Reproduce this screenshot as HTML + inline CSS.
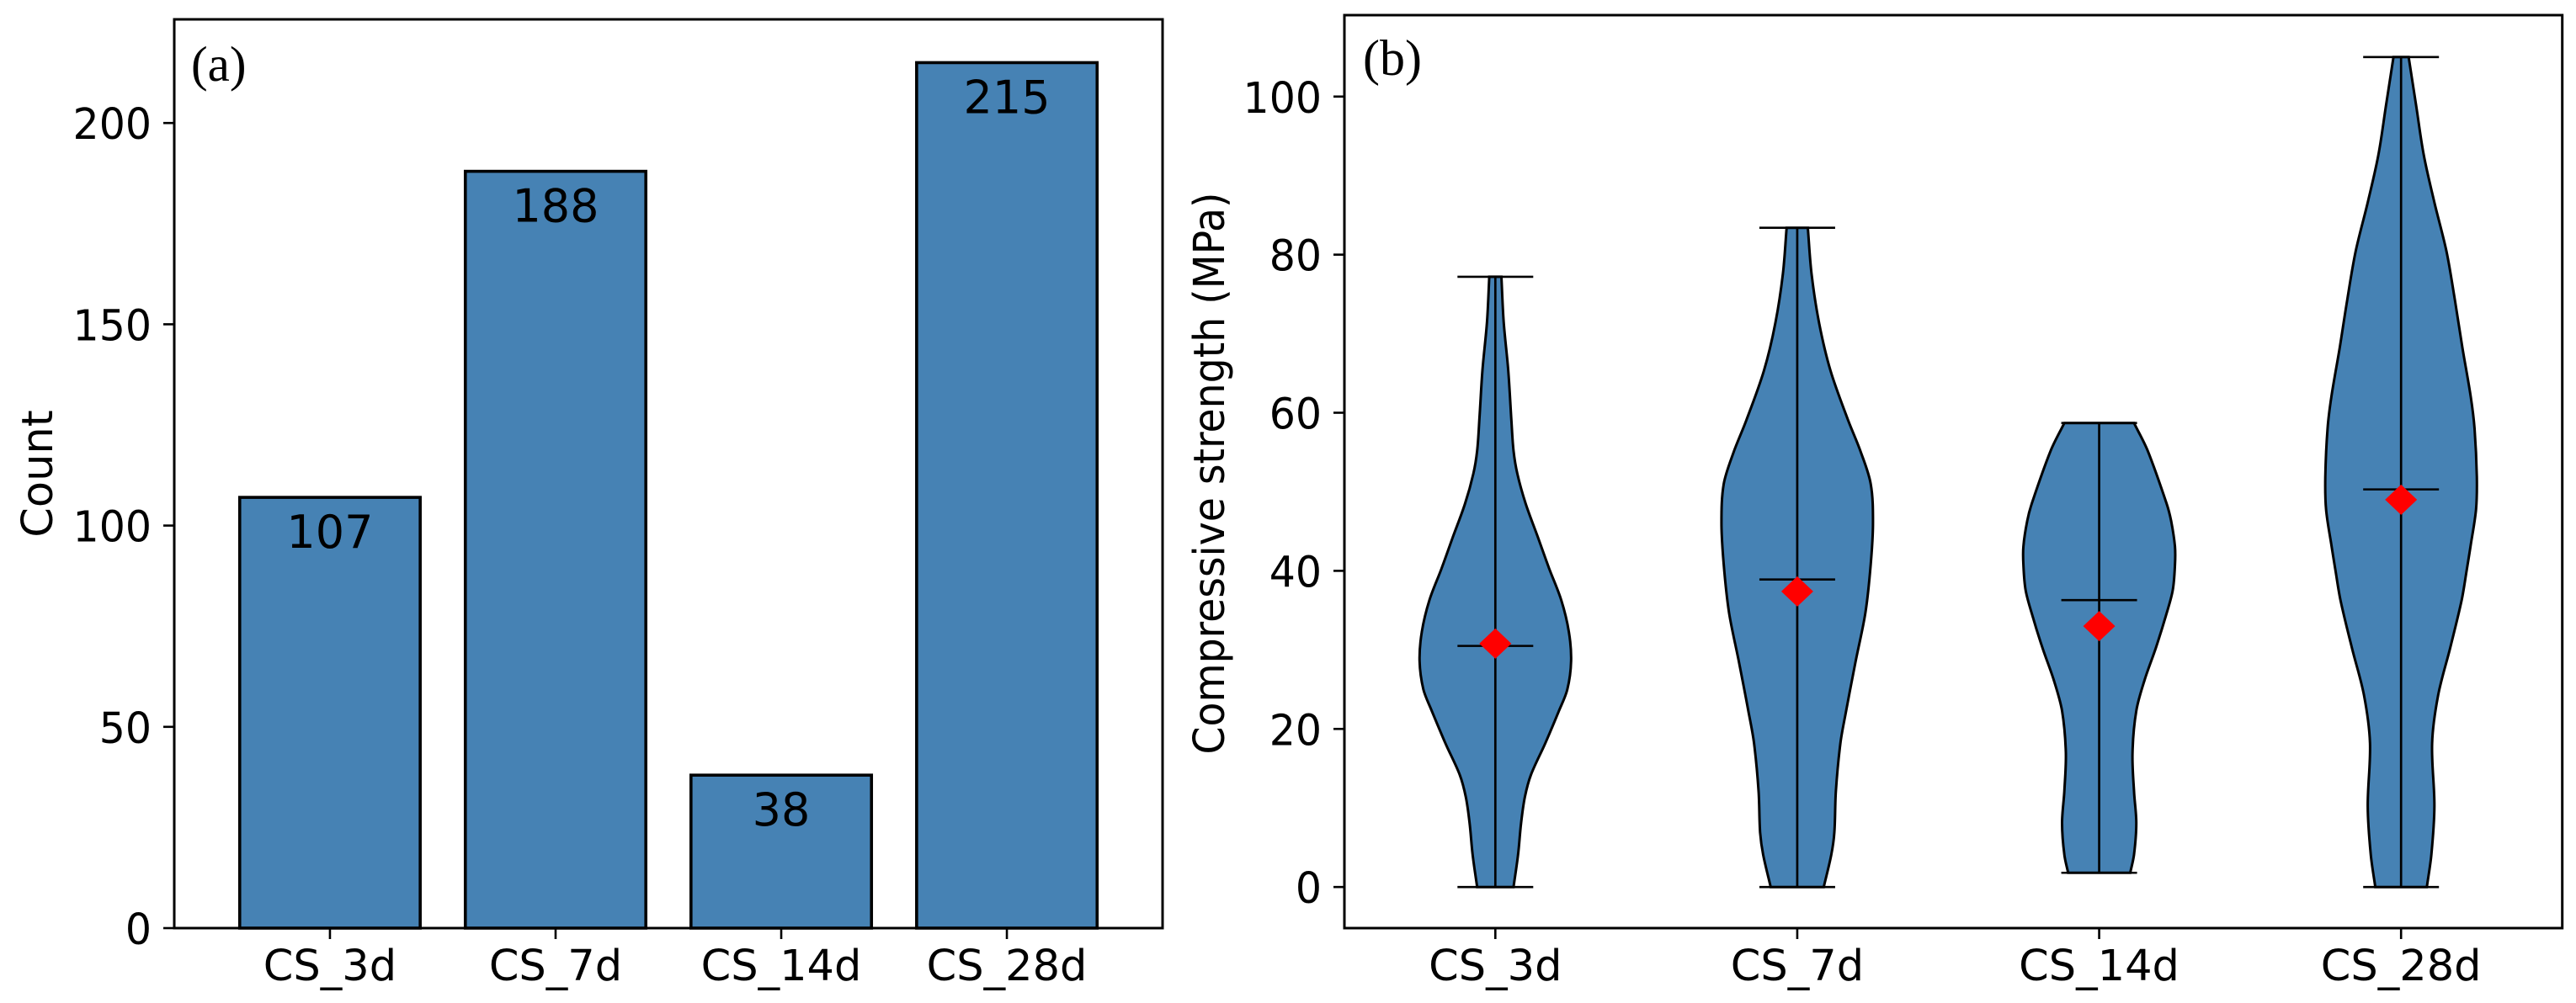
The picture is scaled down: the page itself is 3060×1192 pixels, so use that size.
<!DOCTYPE html>
<html lang="en">
<head>
<meta charset="utf-8">
<title>Compressive strength dataset: counts and distributions</title>
<style>
html,body{margin:0;padding:0;background:#fff;width:3060px;height:1192px;overflow:hidden}
svg{display:block}
text{font-family:"DejaVu Sans","Liberation Sans",sans-serif;fill:#000}
.serif{font-family:"Liberation Serif","DejaVu Serif",serif}
</style>
</head>
<body>
<svg id="figure" xmlns="http://www.w3.org/2000/svg" width="3060" height="1192" viewBox="0 0 3060 1192">
  <rect x="0" y="0" width="3060" height="1192" fill="#ffffff"/>
  <g id="panelA"></g>
  <g id="panelB"></g>
  <text class="serif" x="227" y="96" font-size="59">(a)</text>
  <text class="serif" x="1619" y="89" font-size="60">(b)</text>
  <text x="62" y="563" font-size="51" text-anchor="middle" transform="rotate(-90 62 563)">Count</text>
  <text x="1454" y="562.5" font-size="51" text-anchor="middle" textLength="668" lengthAdjust="spacingAndGlyphs" transform="rotate(-90 1454 562.5)">Compressive strength (MPa)</text>
</svg>
<script>
// ---- chart data ----
const categories = ["CS_3d", "CS_7d", "CS_14d", "CS_28d"];
const counts = [107, 188, 38, 215];
const countTicks = [0, 50, 100, 150, 200];
const strengthTicks = [0, 20, 40, 60, 80, 100];

const strengthMin = [0, 0, 1.8, 0];
const strengthMax = [77.2, 83.4, 58.7, 105];
const strengthMedian = [30.5, 38.9, 36.3, 50.3];
const strengthMean = [30.8, 37.4, 33, 49];

const levels3d = [0, 4.1, 8.1, 11.4, 14.2, 18.2, 22.3, 25, 28.6, 32.3, 36.3, 40.3, 44.3, 48.5, 52.3, 55.2, 59.3, 65.4, 71.5, 77.2];
const density3d = [0.24, 0.30, 0.34, 0.39, 0.47, 0.66, 0.84, 0.95, 1, 0.97, 0.87, 0.71, 0.56, 0.40, 0.29, 0.24, 0.21, 0.17, 0.11, 0.08];
const levels7d = [0, 4.1, 6.9, 12.1, 18.2, 22, 28.5, 34.7, 40.8, 46.1, 51, 55, 59.1, 65.3, 71.3, 77.5, 83.4];
const density7d = [0.35, 0.45, 0.49, 0.51, 0.57, 0.64, 0.77, 0.90, 0.97, 1, 0.97, 0.84, 0.67, 0.44, 0.29, 0.19, 0.14];
const levels14d = [1.8, 4.1, 8.1, 12.1, 17, 22.3, 26.2, 30.3, 34.3, 37.5, 40.7, 43.1, 46.3, 48.5, 55.2, 58.7];
const density14d = [0.41, 0.46, 0.49, 0.46, 0.44, 0.49, 0.60, 0.75, 0.88, 0.97, 1, 1, 0.95, 0.89, 0.64, 0.46];
const levels28d = [0, 4.1, 10.2, 18.2, 24.3, 30.3, 36.3, 40.3, 43.3, 47.8, 51.9, 58, 62, 68.2, 74.3, 80.4, 86.6, 92.6, 98.8, 105];
const density28d = [0.34, 0.40, 0.44, 0.41, 0.49, 0.65, 0.80, 0.87, 0.92, 0.99, 1, 0.97, 0.92, 0.81, 0.71, 0.60, 0.44, 0.30, 0.20, 0.10];
const allLevels = [levels3d, levels7d, levels14d, levels28d];
const allDensity = [density3d, density7d, density14d, density28d];

// ---- axis functions ----
const frameA = {l: 207, r: 1381, t: 23, b: 1103};
const frameB = {l: 1597, r: 3043.7, t: 18, b: 1103};
function scale(d0, d1, r0, r1) { return v => r0 + (v - d0) / (d1 - d0) * (r1 - r0); }
const xA = scale(-0.69, 3.69, frameA.l, frameA.r);
const yA = scale(0, 225.75, frameA.b, frameA.t);
const xB = scale(-0.5, 3.534, frameB.l, frameB.r);
const yB = scale(-5.2, 110.3, frameB.b, frameB.t);

const barWidthUnits = 0.8;
const violinHalfWidth = 90;
const capHalfWidth = 45;
const blue = "#4682b4";
const NS = "http://www.w3.org/2000/svg";

function make(parent, tag, attrs, content) {
  const el = document.createElementNS(NS, tag);
  for (const k in attrs) el.setAttribute(k, attrs[k]);
  if (content !== undefined) el.textContent = content;
  parent.appendChild(el);
  return el;
}

// Hermite spline of offset-vs-y, so unevenly spaced levels stay smooth
function slopes(points) {
  return points.map((p, i) => {
    const a = points[Math.max(0, i - 1)], b = points[Math.min(points.length - 1, i + 1)];
    return (b[0] - a[0]) / (b[1] - a[1]);
  });
}
function smoothSide(points) {
  const m = slopes(points);
  let d = "";
  for (let i = 0; i < points.length - 1; i++) {
    const p1 = points[i], p2 = points[i + 1], h = (p2[1] - p1[1]) / 3;
    d += `C${(p1[0] + m[i] * h).toFixed(1)} ${(p1[1] + h).toFixed(1)} ${(p2[0] - m[i + 1] * h).toFixed(1)} ${(p2[1] - h).toFixed(1)} ${p2[0].toFixed(1)} ${p2[1].toFixed(1)}`;
  }
  return d;
}

function frame(parent, f) {
  const r = make(parent, "rect", {x: f.l, y: f.t, width: f.r - f.l, height: f.b - f.t, fill: "none", stroke: "#000", "stroke-width": 3});
  
  
}

function yTick(parent, f, y, label) {
  const t = make(parent, "line", {x1: f.l - 13, x2: f.l, y1: y, y2: y, stroke: "#000", "stroke-width": 2.6});
  
  
  const l = make(parent, "text", {transform: `translate(${f.l - 27} ${y + 19}) scale(0.96 1)`, "font-size": 51, "text-anchor": "end"}, label);
  
  
}

function xTick(parent, f, x, label) {
  const t = make(parent, "line", {x1: x, x2: x, y1: f.b, y2: f.b + 13, stroke: "#000", "stroke-width": 2.6});
  
  
  const l = make(parent, "text", {x: x, y: 1165, "font-size": 51, "text-anchor": "middle"}, label);
  
  
}

// ---- panel (a): bars ----
const panelA = document.getElementById("panelA");
counts.forEach((c, i) => {
  const x0 = xA(i - barWidthUnits / 2), x1 = xA(i + barWidthUnits / 2), y = yA(c);
  const bar = make(panelA, "rect", {x: x0, y: y, width: x1 - x0, height: yA(0) - y, fill: blue, stroke: "#000", "stroke-width": 3.6});
  
  
  const val = make(panelA, "text", {x: xA(i), y: y + 60, "font-size": 54, "text-anchor": "middle"}, String(c));
  
  
});
countTicks.forEach(v => yTick(panelA, frameA, yA(v), String(v)));
categories.forEach((c, i) => xTick(panelA, frameA, xA(i), c));
frame(panelA, frameA);

// ---- panel (b): violins ----
const panelB = document.getElementById("panelB");
categories.forEach((c, i) => {
  const cx = xB(i);
  const lv = allLevels[i], dn = allDensity[i];
  const right = lv.map((v, k) => [cx + dn[k] * violinHalfWidth, yB(v)]);
  const left = lv.map((v, k) => [cx - dn[k] * violinHalfWidth, yB(v)]).reverse();
  const d = `M${right[0][0].toFixed(1)} ${right[0][1].toFixed(1)}` + smoothSide(right) +
            `L${left[0][0].toFixed(1)} ${left[0][1].toFixed(1)}` + smoothSide(left) + "Z";
  const body = make(panelB, "path", {d: d, fill: blue, stroke: "#000", "stroke-width": 3});
  
  

  const stem = make(panelB, "line", {x1: cx, x2: cx, y1: yB(strengthMin[i]), y2: yB(strengthMax[i]), stroke: "#000", "stroke-width": 2.7});
  
  

  [strengthMin[i], strengthMax[i], strengthMedian[i]].forEach(v => {
    const cap = make(panelB, "line", {x1: cx - capHalfWidth, x2: cx + capHalfWidth, y1: yB(v), y2: yB(v), stroke: "#000", "stroke-width": 2.6});
    
    
  });

  const my = yB(strengthMean[i]);
  const pts = [[cx, my - 18], [cx + 19, my], [cx, my + 18], [cx - 19, my]].map(p => p.join(",")).join(" ");
  const mean = make(panelB, "polygon", {points: pts, fill: "#ff0000"});
  
  
});
strengthTicks.forEach(v => yTick(panelB, frameB, yB(v), String(v)));
categories.forEach((c, i) => xTick(panelB, frameB, xB(i), c));
frame(panelB, frameB);
</script>
</body>
</html>
